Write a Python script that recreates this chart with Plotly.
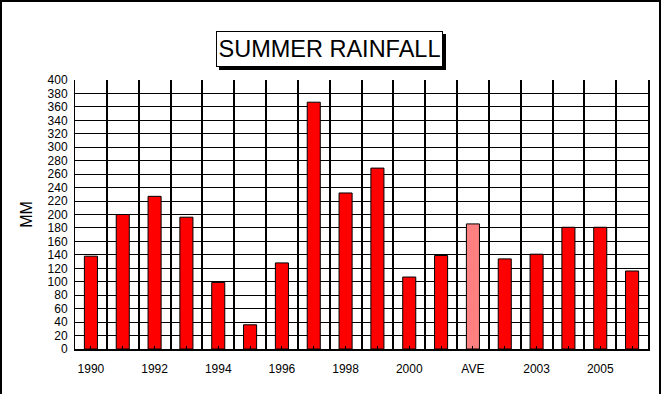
import plotly.graph_objects as go

categories = ["1990", "1991", "1992", "1993", "1994", "1995", "1996", "1997", "1998",
              "1999", "2000", "2001", "AVE", "2002", "2003", "2004", "2005", "2006"]
rainfall_mm = [138, 200, 227, 196, 99, 36, 128, 367, 232,
               269, 107, 139, 186, 134, 141, 181, 181, 116]
tick_labels = ["1990", "", "1992", "", "1994", "", "1996", "", "1998",
               "", "2000", "", "AVE", "", "2003", "", "2005", ""]
y_ticks = list(range(0, 401, 20))

n = len(categories)
xpos = list(range(n))
colors = ["#ff8080" if c == "AVE" else "#ff0000" for c in categories]

W, H = 662, 394
ml, mr, mt, mb = 75, 14, 80, 45
pw, ph = W - ml - mr, H - mt - mb

fig = go.Figure()
fig.add_trace(go.Bar(
    x=xpos, y=rainfall_mm, width=0.41,
    marker=dict(color=colors, line=dict(color="black", width=1)),
    hovertext=categories, showlegend=False,
))
# invisible trace on overlaying axes to carry category-boundary grid lines and right frame
fig.add_trace(go.Scatter(x=[-0.5, n - 0.5], y=[0, 0], xaxis="x2", yaxis="y2", mode="markers",
                         marker=dict(opacity=0), showlegend=False, hoverinfo="skip"))

font = "Liberation Sans, Arial, sans-serif"
fig.update_layout(
    width=W, height=H,
    margin=dict(l=ml, r=mr, t=mt, b=mb, autoexpand=False),
    paper_bgcolor="white", plot_bgcolor="white",
    xaxis=dict(
        range=[-0.5, n - 0.5], tickmode="array", tickvals=xpos, ticktext=tick_labels,
        showgrid=False, zeroline=False, showline=True, linecolor="black", linewidth=2,
        ticks="inside", ticklen=3, tickcolor="black", tickwidth=1, automargin=False,
        tickfont=dict(family=font, size=12, color="black"), ticklabelstandoff=8,
    ),
    xaxis2=dict(
        overlaying="x", range=[-0.5, n - 0.5], tickmode="array",
        tickvals=[i + 0.5 for i in range(-1, n)], showticklabels=False,
        showgrid=True, gridcolor="black", gridwidth=2, zeroline=False, ticks="",
        layer="below traces", automargin=False,
    ),
    yaxis=dict(
        range=[0, 400], tickmode="array", tickvals=y_ticks, automargin=False,
        showgrid=True, gridcolor="black", gridwidth=1, zeroline=False,
        showline=True, linecolor="black", linewidth=1, ticks="",
        tickfont=dict(family=font, size=12, color="black"), ticklabelstandoff=4,
        title=dict(text="MM", font=dict(family=font, size=16, color="black"), standoff=10),
    ),
    yaxis2=dict(
        overlaying="y", side="right", range=[0, 400], showgrid=False, zeroline=False,
        showticklabels=False, ticks="", showline=True, linecolor="black", linewidth=2,
        automargin=False,
    ),
    shapes=[
        dict(type="rect", xref="paper", yref="paper",
             x0=(1 - ml) / pw, x1=(W - 2 - ml) / pw,
             y0=(mb - (H - 2)) / ph, y1=(H - 1 - mb) / ph,
             line=dict(color="black", width=2), fillcolor="rgba(0,0,0,0)", layer="above"),
    ],
    annotations=[
        dict(text="", xref="paper", yref="paper",
             x=(329.5 - ml) / pw, y=(H - mb - 31) / ph, xshift=3, yshift=-3,
             showarrow=False, width=225, height=34, bgcolor="black",
             bordercolor="black", borderwidth=1, borderpad=0),
        dict(text="SUMMER RAINFALL", xref="paper", yref="paper",
             x=(329.5 - ml) / pw, y=(H - mb - 31) / ph,
             showarrow=False, width=225, height=34, bgcolor="white",
             bordercolor="black", borderwidth=1, borderpad=0,
             font=dict(family=font, size=23.5, color="black")),
    ],
)

fig.write_html("out.html", config={"displayModeBar": False},
               post_script="document.body.style.margin='0';document.body.style.overflow='hidden';")
